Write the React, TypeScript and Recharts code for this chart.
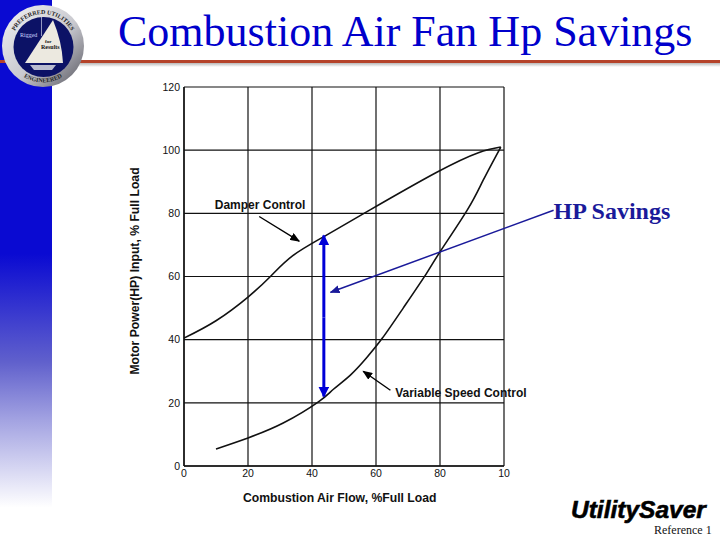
import React from "react";
import { ComposedChart, Line, XAxis, YAxis, CartesianGrid, ReferenceLine, ReferenceDot } from "recharts";

const xTicks = [0, 20, 40, 60, 80, 100];
const yTicks = [0, 20, 40, 60, 80, 100, 120];
const xTickLabels: Record<number, string> = { 0: "0", 20: "20", 40: "40", 60: "60", 80: "80", 100: "10" };

const damperFlow = [0, 10, 20, 27, 34, 44, 58, 79, 92, 99];
const damperHp = [40.5, 46, 53.5, 60, 66.6, 72.8, 81, 93, 99.2, 101];
const variableFlow = [10, 20, 31, 42, 46.7, 52, 57, 62, 68.5, 75.8, 80, 88.5, 93.5, 99];
const variableHp = [5.4, 8.9, 13.6, 20.3, 24.3, 28.8, 34.2, 40.5, 50, 61, 67.8, 81, 90.5, 101];

const damperData = damperFlow.map((x, i) => ({ x, y: damperHp[i] }));
const variableData = variableFlow.map((x, i) => ({ x, y: variableHp[i] }));

const damperPointer = [{ x: 23.5, y: 79 }, { x: 36, y: 71.2 }];
const variablePointer = [{ x: 64.5, y: 24 }, { x: 56, y: 30 }];
const savingsSpanUp = [{ x: 43.7, y: 47 }, { x: 43.7, y: 73 }];
const savingsSpanDown = [{ x: 43.7, y: 47 }, { x: 43.7, y: 22 }];
const savingsLeader = [{ x: 115.5, y: 81 }, { x: 45.8, y: 55 }];

const serif = "'Liberation Serif', serif";
const sans = "'Liberation Sans', sans-serif";

const axisTick = { fill: "#111", fontSize: 10.5, fontFamily: sans };

function Note({ viewBox, text, size, family, color, dx = 0, dy = 0 }: any) {
  return (
    <text x={viewBox.x + dx} y={viewBox.y + dy} fontSize={size} fontFamily={family} fontWeight="bold" fill={color}>
      {text}
    </text>
  );
}

function Logo() {
  return (
    <svg width={92} height={92} viewBox="0 0 92 92" style={{ position: "absolute", left: 0, top: 0 }}>
      <defs>
        <linearGradient id="ring" x1="0" y1="0" x2="1" y2="1">
          <stop offset="0" stopColor="#f2f2f4" />
          <stop offset="0.55" stopColor="#c9c9cf" />
          <stop offset="1" stopColor="#55555f" />
        </linearGradient>
      </defs>
      <circle cx={43} cy={46} r={41} fill="url(#ring)" />
      <circle cx={43.5} cy={47} r={30} fill="#0c1266" />
      <path d="M53 20 Q62 42 63 63 L25 63 Z" fill="#ece9e0" />
      <line x1={41.5} y1={17} x2={41.5} y2={36} stroke="#cfd2e8" strokeWidth={0.7} />
      <path d="M30 65 L56 65 L52 70 L34 70 Z" fill="#b9bcd0" />
      <text x={20} y={37} fontSize={6} fontFamily={serif} fill="#cfd8ff">Rigged</text>
      <text x={45} y={43} fontSize={5} fontFamily={serif} fontWeight="bold" fill="#111">for</text>
      <text x={41} y={49} fontSize={6} fontFamily={serif} fontWeight="bold" fill="#111">Results</text>
      <path id="logoTop" d="M11 46 A32 32 0 0 1 75 46" fill="none" />
      <text fontSize={6} fontFamily={serif} fontWeight="bold" fill="#222" textAnchor="middle">
        <textPath href="#logoTop" startOffset="50%">PREFERRED UTILITIES</textPath>
      </text>
      <path id="logoBottom" d="M13 67 A37 37 0 0 0 73 67" fill="none" />
      <text fontSize={6} fontFamily={serif} fontWeight="bold" fill="#222" textAnchor="middle">
        <textPath href="#logoBottom" startOffset="50%">ENGINEERED</textPath>
      </text>
    </svg>
  );
}

export default function App() {
  return (
    <div style={{ position: "absolute", left: 0, top: 0, width: 720, height: 540, overflow: "hidden", background: "#fff" }}>
      <div style={{ position: "absolute", left: 0, top: 0, width: 52, height: 540, background: "linear-gradient(to bottom, #0a0ad2 0%, #0a0ad2 47%, #6060cc 67%, #a4a4e2 78%, #ffffff 94%)" }} />
      <div style={{ position: "absolute", left: 0, top: 60, width: 720, height: 3, background: "#b5432a" }} />
      <div style={{ position: "absolute", left: 52, top: 63, width: 668, height: 4, background: "linear-gradient(to bottom, #b9b9b9, #ffffff)" }} />
      <div style={{ position: "absolute", left: 118, top: 7, fontFamily: serif, fontSize: 44, color: "#0000cc", whiteSpace: "nowrap", lineHeight: "50px" }}>
        Combustion Air Fan Hp Savings
      </div>
      <Logo />
      <div style={{ position: "absolute", left: 0, top: 0 }}>
        <ComposedChart width={720} height={540} margin={{ top: 87, right: 216, bottom: 44, left: 154 }}>
          <defs>
            <marker id="blackHead" markerWidth="10" markerHeight="8" refX="9" refY="4" orient="auto" markerUnits="userSpaceOnUse">
              <path d="M0 0 L10 4 L0 8 Z" fill="#000" />
            </marker>
            <marker id="navyHead" markerWidth="10" markerHeight="8" refX="9" refY="4" orient="auto" markerUnits="userSpaceOnUse">
              <path d="M0 0 L10 4 L0 8 Z" fill="#1a1a9a" />
            </marker>
            <marker id="blueHead" markerWidth="11" markerHeight="11" refX="10" refY="5.5" orient="auto" markerUnits="userSpaceOnUse">
              <path d="M0 0 L11 5.5 L0 11 Z" fill="#0000d8" />
            </marker>
          </defs>
          <CartesianGrid stroke="#111" strokeWidth={1.2} horizontalValues={yTicks} verticalValues={xTicks} />
          <XAxis
            type="number"
            dataKey="x"
            domain={[0, 100]}
            ticks={xTicks}
            tickFormatter={(v: number) => xTickLabels[v]}
            tick={axisTick}
            tickLine={false}
            axisLine={{ stroke: "#111", strokeWidth: 1.4 }}
            tickMargin={-2}
            height={30}
            allowDataOverflow
          />
          <YAxis
            type="number"
            domain={[0, 120]}
            ticks={yTicks}
            tick={axisTick}
            tickLine={false}
            axisLine={{ stroke: "#111", strokeWidth: 1.4 }}
            tickMargin={-2}
            width={30}
          />
          <Line data={damperData} dataKey="y" type="natural" stroke="#111" strokeWidth={1.6} dot={false} isAnimationActive={false} />
          <Line data={variableData} dataKey="y" type="natural" stroke="#111" strokeWidth={1.6} dot={false} isAnimationActive={false} />
          <ReferenceLine segment={damperPointer} ifOverflow="visible" stroke="#000" strokeWidth={1.4} markerEnd="url(#blackHead)" />
          <ReferenceLine segment={variablePointer} ifOverflow="visible" stroke="#000" strokeWidth={1.4} markerEnd="url(#blackHead)" />
          <ReferenceLine segment={savingsLeader} ifOverflow="visible" stroke="#1a1a9a" strokeWidth={1.5} markerEnd="url(#navyHead)" />
          <ReferenceLine segment={savingsSpanUp} ifOverflow="visible" stroke="#0000d8" strokeWidth={3} markerEnd="url(#blueHead)" />
          <ReferenceLine segment={savingsSpanDown} ifOverflow="visible" stroke="#0000d8" strokeWidth={3} markerEnd="url(#blueHead)" />
          <ReferenceDot x={9.6} y={81.3} r={0} ifOverflow="visible" fill="none" stroke="none"
            label={(p: any) => <Note viewBox={p.viewBox} text="Damper Control" size={12} family={sans} color="#111" />} />
          <ReferenceDot x={66} y={21.7} r={0} ifOverflow="visible" fill="none" stroke="none"
            label={(p: any) => <Note viewBox={p.viewBox} text="Variable Speed Control" size={12} family={sans} color="#111" />} />
          <ReferenceDot x={115.5} y={78.2} r={0} ifOverflow="visible" fill="none" stroke="none"
            label={(p: any) => <Note viewBox={p.viewBox} text="HP Savings" size={24} family={serif} color="#1a1a9a" />} />
        </ComposedChart>
      </div>
      <div style={{ position: "absolute", left: 243, top: 491, fontFamily: sans, fontWeight: "bold", fontSize: 12.2, color: "#111", whiteSpace: "nowrap" }}>
        Combustion Air Flow, %Full Load
      </div>
      <div style={{ position: "absolute", left: 135, top: 271, width: 0, height: 0 }}>
        <div style={{ position: "absolute", transform: "translate(-50%,-50%) rotate(-90deg)", fontFamily: sans, fontWeight: "bold", fontSize: 12.2, color: "#111", whiteSpace: "nowrap" }}>
          Motor Power(HP) Input, % Full Load
        </div>
      </div>
      <div style={{ position: "absolute", left: 571, top: 496, fontFamily: sans, fontWeight: "bold", fontStyle: "italic", fontSize: 24.5, color: "#000", WebkitTextStroke: "0.6px #000", whiteSpace: "nowrap", lineHeight: "28px" }}>
        UtilitySaver
      </div>
      <div style={{ position: "absolute", left: 654, top: 523, fontFamily: serif, fontSize: 12, color: "#111", whiteSpace: "nowrap" }}>
        Reference 1
      </div>
    </div>
  );
}
